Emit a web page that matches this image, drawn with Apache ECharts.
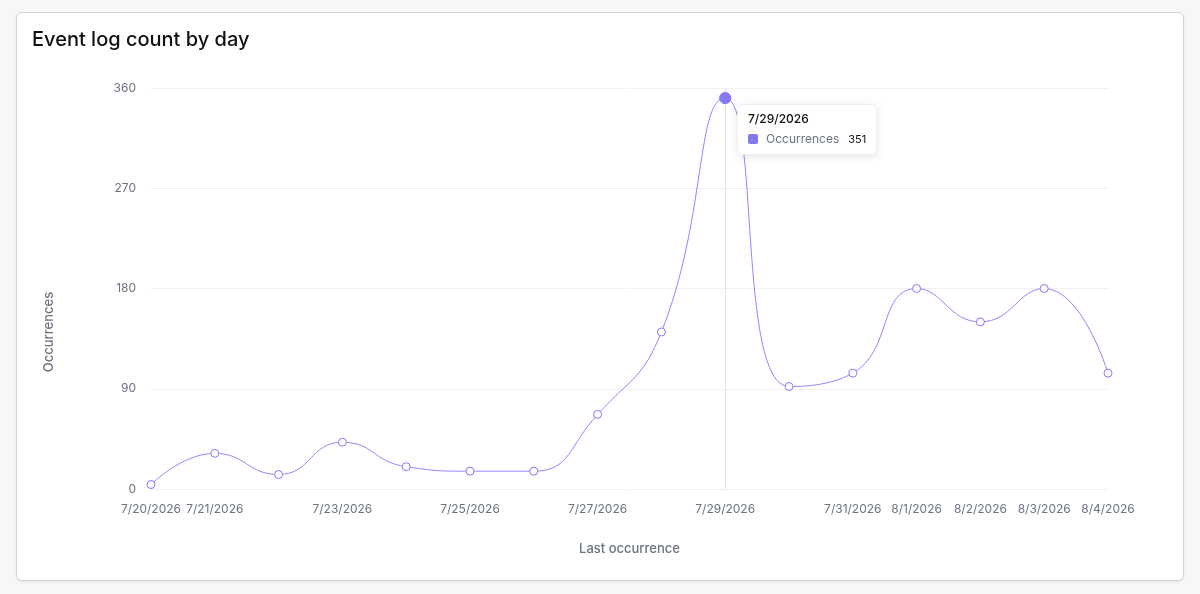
<!DOCTYPE html>
<html>
<head>
<meta charset="utf-8">
<script src="https://cdn.jsdelivr.net/npm/echarts@6/dist/echarts.min.js"></script>
<style>
  html, body { margin: 0; padding: 0; width: 1200px; height: 594px; background: #f6f7f9; overflow: hidden; font-family: Inter, sans-serif; }
  #card { position: absolute; left: 16px; top: 12px; width: 1166px; height: 567px; background: #fff; border: 1px solid #d4d4d8; border-radius: 6px; box-shadow: 0 1px 3px rgba(0,0,0,0.08); }
  #chart { position: absolute; left: 0; top: 0; width: 1166px; height: 567px; }
</style>
</head>
<body>
<div id="card"><div id="chart"></div></div>
<script>
const categories = ['7/20/2026','7/21/2026','7/22/2026','7/23/2026','7/24/2026','7/25/2026','7/26/2026','7/27/2026','7/28/2026','7/29/2026','7/30/2026','7/31/2026','8/1/2026','8/2/2026','8/3/2026','8/4/2026'];
const occurrences = [4, 32, 13, 42, 20, 16, 16, 67, 141, 351, 92, 104, 180, 150, 180, 104];
const shownLabels = ['7/20/2026','7/21/2026','7/23/2026','7/25/2026','7/27/2026','7/29/2026','7/31/2026','8/1/2026','8/2/2026','8/3/2026','8/4/2026'];
const yTicks = [0, 90, 180, 270, 360];
const highlightIndex = 9;

const lineColor = '#8479ef';
const font = 'Inter, "Noto Sans", sans-serif';
const chart = echarts.init(document.getElementById('chart'));
chart.setOption({
  animation: false,
  textStyle: { fontFamily: font },
  title: {
    text: 'Event log count by day',
    left: 10, top: 12,
    textStyle: { fontFamily: font, fontSize: 20, fontWeight: 500, color: '#111111' }
  },
  grid: { left: 134, right: 75, top: 75, bottom: 91, containLabel: false },
  tooltip: {
    trigger: 'axis',
    position: [720, 91],
    backgroundColor: '#ffffff',
    borderColor: '#eeeeee',
    borderWidth: 1,
    padding: [5, 10, 6, 10],
    extraCssText: 'box-shadow: 0 2px 10px rgba(0,0,0,0.10); border-radius: 6px;',
    axisPointer: { type: 'line', z: 1, lineStyle: { color: '#e4e4e7', width: 1, type: 'solid' } },
    formatter: function (params) {
      const p = params[0];
      return '<div style="font-family:Inter,sans-serif;font-size:12px;color:#111;font-weight:500;line-height:18px;">' + p.name + '</div>' +
        '<div style="font-family:Inter,sans-serif;font-size:12px;line-height:18px;margin-top:2px;">' +
        '<span style="display:inline-block;width:10px;height:10px;border-radius:2px;background:' + lineColor + ';margin-right:8px;vertical-align:-1px;"></span>' +
        '<span style="color:#6b7280;">' + p.seriesName + '</span>' +
        '<span style="color:#111;margin-left:9px;font-size:11px;">' + p.value + '</span></div>';
    }
  },
  xAxis: {
    type: 'category',
    data: categories,
    boundaryGap: false,
    name: 'Last occurrence',
    nameLocation: 'middle',
    nameGap: 54,
    nameTextStyle: { fontFamily: font, fontSize: 13, color: '#6b7280', fontWeight: 500 },
    axisLine: { show: false },
    axisTick: { show: false },
    axisLabel: {
      fontFamily: font, fontSize: 12, color: '#6b7280', margin: 14,
      interval: function (idx, val) { return shownLabels.indexOf(val) >= 0; }
    }
  },
  yAxis: {
    type: 'value',
    min: yTicks[0], max: yTicks[yTicks.length - 1], interval: 90,
    name: 'Occurrences',
    nameLocation: 'middle',
    nameGap: 95,
    nameTextStyle: { fontFamily: font, fontSize: 13, color: '#6b7280', fontWeight: 500, padding: [0, 87, 0, 0] },
    axisLine: { show: false },
    axisTick: { show: false },
    axisLabel: { fontFamily: font, fontSize: 12, color: '#6b7280', margin: 15 },
    splitLine: { lineStyle: { color: '#f2f2f3', width: 1 } }
  },
  series: [{
    name: 'Occurrences',
    type: 'line',
    data: occurrences,
    smooth: true,
    z: 5,
    symbol: 'circle',
    symbolSize: 8,
    showAllSymbol: true,
    lineStyle: { color: lineColor, width: 1 },
    itemStyle: { color: '#ffffff', borderColor: lineColor, borderWidth: 1 },
    emphasis: { scale: 1.4, itemStyle: { color: lineColor, borderColor: lineColor } }
  }]
});
setTimeout(function () {
  chart.dispatchAction({ type: 'showTip', seriesIndex: 0, dataIndex: highlightIndex });
  chart.dispatchAction({ type: 'highlight', seriesIndex: 0, dataIndex: highlightIndex });
}, 50);
</script>
</body>
</html>
